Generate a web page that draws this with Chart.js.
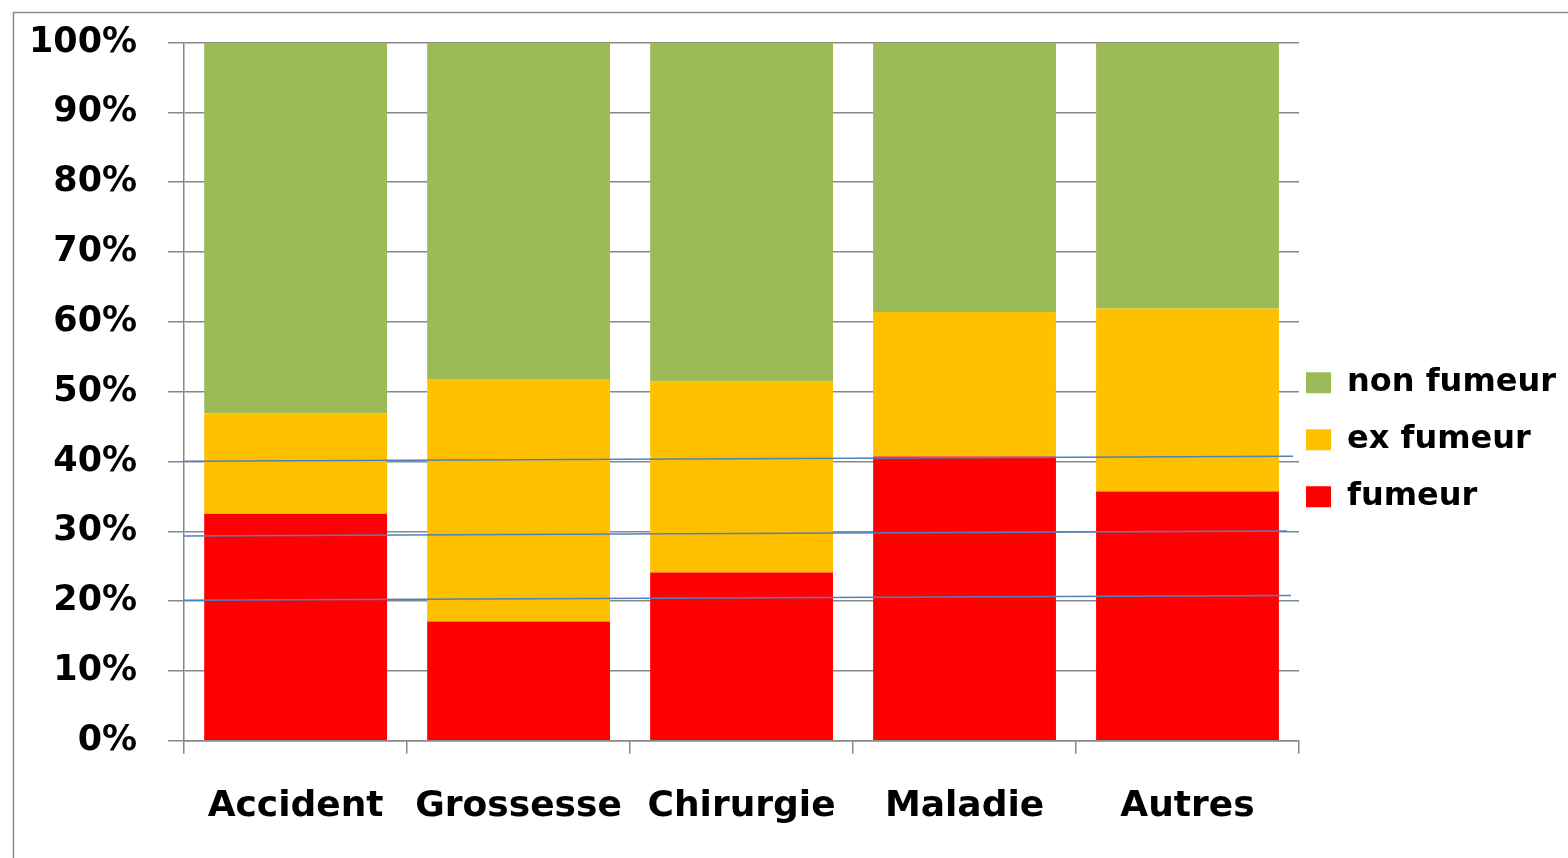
<!DOCTYPE html>
<html>
<head>
<meta charset="utf-8">
<script src="https://cdn.jsdelivr.net/npm/chart.js@4/dist/chart.umd.min.js"></script>
<style>
  html, body { margin: 0; padding: 0; background: #ffffff; }
  #wrap { width: 1568px; height: 858px; }
</style>
</head>
<body>
<div id="wrap"><canvas id="c" width="1568" height="858"></canvas></div>
<script>
// Categories and stacked shares (%)
const categories = ['Accident', 'Grossesse', 'Chirurgie', 'Maladie', 'Autres'];
const fumeur     = [32.5, 17.1, 24.1, 40.7, 35.7];
const exFumeur   = [14.4, 34.7, 27.4, 20.7, 26.2];
const nonFumeur  = [53.1, 48.2, 48.5, 38.6, 38.1];

// Y tick values (percent)
const yTicks = [0, 10, 20, 30, 40, 50, 60, 70, 80, 90, 100];

// Hand-drawn reference lines: x in category units (0 = left edge, 5 = right edge), y in %
const refLine40X = [-0.004, 4.973];
const refLine40Y = [40.03, 40.75];
const refLine30X = [-0.036, 4.946];
const refLine30Y = [29.31, 30.03];
const refLine20X = [-0.018, 4.964];
const refLine20Y = [20.13, 20.80];

const toPoints = (xs, ys) => xs.map((x, i) => ({ x: x, y: ys[i] }));

const FONT = "'DejaVu Sans', Verdana, sans-serif";
const GRID = '#888888';

// Outer frame around the chart object
const framePlugin = {
  id: 'frame',
  beforeDraw(chart) {
    const ctx = chart.ctx;
    ctx.save();
    ctx.strokeStyle = '#8c8c8c';
    ctx.lineWidth = 1.5;
    ctx.beginPath();
    ctx.moveTo(13.5, chart.height + 5);
    ctx.lineTo(13.5, 12.5);
    ctx.lineTo(chart.width + 5, 12.5);
    ctx.stroke();
    ctx.restore();
  }
};

// Pull the legend block a little closer to the plot area
const legendNudge = {
  id: 'legendNudge',
  afterLayout(chart) {
    const lg = chart.legend;
    if (!lg) return;
    lg.left -= 18;
    lg.top -= 11;
    lg.bottom -= 11;
  }
};

const lineStyle = {
  type: 'line',
  xAxisID: 'x2',
  yAxisID: 'y2',
  borderColor: '#4f81bd',
  borderWidth: 1.5,
  pointRadius: 0,
  fill: false,
  order: -1
};

new Chart(document.getElementById('c'), {
  type: 'bar',
  data: {
    labels: categories,
    datasets: [
      { label: 'fumeur', data: fumeur, backgroundColor: '#ff0000' },
      { label: 'ex fumeur', data: exFumeur, backgroundColor: '#ffc000' },
      { label: 'non fumeur', data: nonFumeur, backgroundColor: '#9bbb59' },
      Object.assign({ label: 'l40', data: toPoints(refLine40X, refLine40Y) }, lineStyle),
      Object.assign({ label: 'l30', data: toPoints(refLine30X, refLine30Y) }, lineStyle),
      Object.assign({ label: 'l20', data: toPoints(refLine20X, refLine20Y) }, lineStyle)
    ]
  },
  options: {
    responsive: false,
    animation: false,
    layout: { autoPadding: false, padding: { left: -2, top: 42.5, bottom: -1, right: 0 } },
    datasets: {
      bar: { barPercentage: 0.82, categoryPercentage: 1.0, borderWidth: 0, grouped: false }
    },
    scales: {
      x: {
        stacked: true,
        offset: true,
        grid: {
          offset: true,
          drawOnChartArea: false,
          drawTicks: true,
          tickLength: 13,
          color: GRID,
          lineWidth: 1.5
        },
        border: { display: true, color: GRID, width: 1.5 },
        ticks: {
          color: '#000000',
          padding: 31,
          font: { family: FONT, size: 36, weight: 'bold' }
        }
      },
      y: {
        stacked: true,
        min: 0,
        max: 100,
        afterBuildTicks(axis) { axis.ticks = yTicks.map(v => ({ value: v })); },
        grid: {
          color: GRID,
          lineWidth: 1.5,
          tickLength: 16
        },
        border: { display: true, color: GRID, width: 1.5 },
        ticks: {
          color: '#000000',
          padding: 31,
          font: { family: FONT, size: 35, weight: 'bold', lineHeight: 0.6 },
          callback: v => v + '%'
        }
      },
      x2: { type: 'linear', display: false, offset: false, min: 0, max: 5, grid: { offset: false } },
      y2: { type: 'linear', display: false, min: 0, max: 100 }
    },
    plugins: {
      legend: {
        position: 'right',
        reverse: true,
        maxWidth: 269,
        labels: {
          filter: item => item.datasetIndex < 3,
          boxWidth: 25,
          boxHeight: 21,
          padding: 25,
          color: '#000000',
          font: { family: FONT, size: 32, weight: 'bold' }
        }
      },
      tooltip: { enabled: false }
    }
  },
  plugins: [framePlugin, legendNudge]
});
</script>
</body>
</html>
